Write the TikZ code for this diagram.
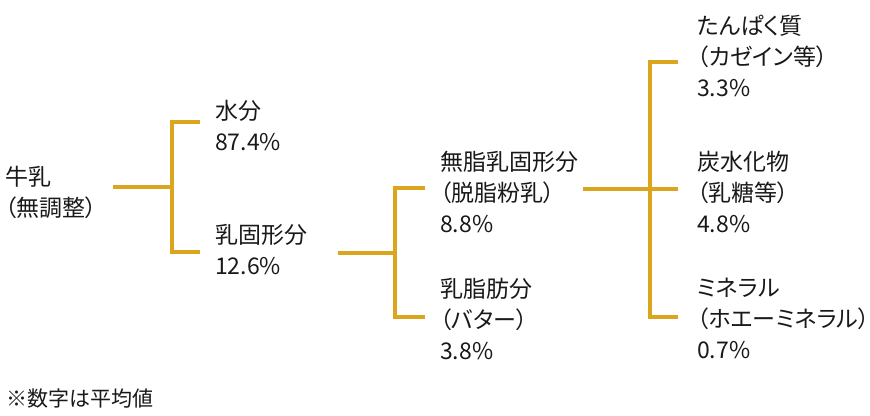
\documentclass[tikz,border=0pt]{standalone}
\usepackage{fontspec}
\setmainfont[RawFeature=+palt]{Noto Sans CJK JP}
\definecolor{gold}{RGB}{219,166,30}
\definecolor{txt}{RGB}{25,25,25}
\tikzset{
  branch/.style={draw=gold, line width=4.5pt, line join=miter, line cap=butt},
  label/.style={anchor=west, align=left, inner sep=0pt, text=txt,
    font=\fontsize{23}{31}\selectfont},
  note/.style={anchor=west, inner sep=0pt, text=txt, font=\fontsize{21}{24}\selectfont}
}
\begin{document}
\begin{tikzpicture}[x=1pt,y=-1pt]
\useasboundingbox (0,0) rectangle (870,415);
% text nodes
\node[label] (milk) at (5,192) {牛乳\\（無調整）};
\node[label] (water) at (215,126) {水分\\87.4\%};
\node[label] (solid) at (215,250) {乳固形分\\12.6\%};
\node[label] (snf) at (440,192) {無脂乳固形分\\（脱脂粉乳）\\8.8\%};
\node[label] (fat) at (440,319) {乳脂肪分\\（バター）\\3.8\%};
\node[label] (prot) at (697,56) {たんぱく質\\（カゼイン等）\\3.3\%};
\node[label] (carb) at (697,192) {炭水化物\\（乳糖等）\\4.8\%};
\node[label] (mine) at (697,318) {ミネラル\\（ホエーミネラル）\\0.7\%};
\node[note] (foot) at (6,399) {※数字は平均値};
% connector coordinates
\coordinate (s1) at (113,187);
\coordinate (t1) at (172,122);
\coordinate (b1) at (172,252);
\coordinate (e1a) at (200,122);
\coordinate (e1b) at (200,252);
\coordinate (s2) at (338,253);
\coordinate (t2) at (395,188);
\coordinate (b2) at (395,317);
\coordinate (e2a) at (425,188);
\coordinate (e2b) at (425,317);
\coordinate (s3) at (583,189);
\coordinate (m3) at (678,189);
\coordinate (t3) at (650,62);
\coordinate (b3) at (650,317);
\coordinate (e3a) at (678,62);
\coordinate (e3b) at (678,317);
% connectors
\draw[branch] (s1) -- (s1 -| t1);
\draw[branch] (e1a) -- (t1) -- (b1) -- (e1b);
\draw[branch] (s2) -- (s2 -| t2);
\draw[branch] (e2a) -- (t2) -- (b2) -- (e2b);
\draw[branch] (s3) -- (m3);
\draw[branch] (e3a) -- (t3) -- (b3) -- (e3b);
\end{tikzpicture}
\end{document}
